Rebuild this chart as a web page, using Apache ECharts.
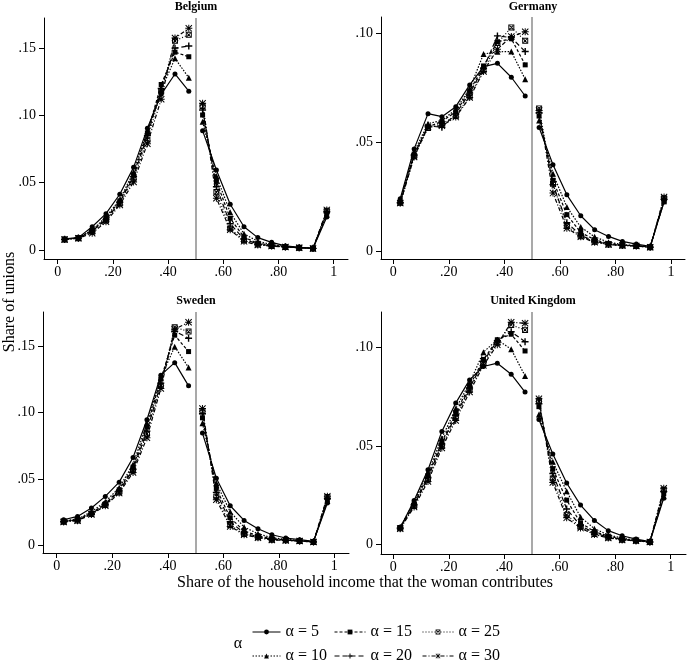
<!DOCTYPE html>
<html>
<head>
<meta charset="utf-8">
<script src="https://cdn.jsdelivr.net/npm/echarts@6/dist/echarts.min.js"></script>
<style>
html,body{margin:0;padding:0;background:#fff;}
#chart{width:688px;height:664px;}
</style>
</head>
<body>
<div id="chart"></div>
<script>
// ---- data ----
const xValues = [0.025,0.075,0.125,0.175,0.225,0.275,0.325,0.375,0.425,0.475,0.525,0.575,0.625,0.675,0.725,0.775,0.825,0.875,0.925,0.975];
const alphas = [5,10,15,20,25,30];
const countries = ['Belgium','Germany','Sweden','United Kingdom'];
const xTicks = [0,0.2,0.4,0.6,0.8,1];
const yTicksBelgium = [0,0.05,0.10,0.15];
const yTicksGermany = [0,0.05,0.10];
const yTicksSweden = [0,0.05,0.10,0.15];
const yTicksUK = [0,0.05,0.10];

// rows: alpha = 5, 10, 15, 20, 25, 30
const belgium = [
 [.0082,.0092,.0173,.0270,.0414,.0614,.0904,.1157,.1308,.1180,.0887,.0594,.0340,.0173,.0092,.0057,.0030,.0020,.0013,.0245],
 [.0080,.0090,.0150,.0245,.0375,.0580,.0885,.1190,.1424,.1280,.0953,.0550,.0280,.0120,.0065,.0040,.0027,.0019,.0013,.0262],
 [.0080,.0090,.0145,.0235,.0365,.0560,.0870,.1230,.1470,.1436,.1003,.0510,.0235,.0095,.0050,.0035,.0025,.0018,.0012,.0275],
 [.0079,.0089,.0140,.0225,.0355,.0545,.0850,.1200,.1500,.1516,.1040,.0470,.0195,.0080,.0045,.0032,.0023,.0017,.0012,.0285],
 [.0078,.0088,.0135,.0220,.0345,.0530,.0820,.1180,.1555,.1600,.1070,.0430,.0160,.0070,.0040,.0030,.0022,.0017,.0011,.0292],
 [.0077,.0087,.0125,.0210,.0335,.0505,.0790,.1120,.1575,.1647,.1090,.0385,.0150,.0064,.0037,.0029,.0022,.0016,.0011,.0298]
];
const germany = [
 [.0240,.0469,.0631,.0617,.0663,.0763,.0847,.0862,.0798,.0712,.0567,.0396,.0258,.0162,.0098,.0067,.0044,.0032,.0021,.0225],
 [.0230,.0455,.0585,.0600,.0650,.0745,.0905,.0915,.0916,.0789,.0600,.0355,.0202,.0110,.0065,.0040,.0030,.0025,.0019,.0228],
 [.0225,.0445,.0570,.0595,.0640,.0735,.0850,.0961,.0975,.0855,.0620,.0325,.0167,.0085,.0052,.0034,.0027,.0024,.0018,.0232],
 [.0222,.0440,.0575,.0568,.0630,.0725,.0840,.0988,.0980,.0916,.0635,.0305,.0130,.0072,.0045,.0031,.0026,.0024,.0018,.0238],
 [.0220,.0435,.0565,.0585,.0620,.0710,.0830,.0955,.1027,.0966,.0655,.0309,.0115,.0068,.0042,.0030,.0025,.0023,.0017,.0242],
 [.0220,.0432,.0570,.0575,.0615,.0705,.0825,.0927,.0985,.1007,.0645,.0266,.0105,.0065,.0040,.0030,.0025,.0023,.0017,.0248]
];
const sweden = [
 [.0195,.0220,.0283,.0370,.0477,.0662,.0945,.1280,.1374,.1200,.0845,.0507,.0300,.0190,.0127,.0082,.0058,.0045,.0032,.0320],
 [.0188,.0200,.0255,.0330,.0435,.0610,.0920,.1260,.1494,.1337,.0920,.0470,.0255,.0140,.0090,.0060,.0048,.0040,.0030,.0335],
 [.0185,.0195,.0245,.0315,.0420,.0590,.0890,.1250,.1580,.1457,.0960,.0430,.0210,.0110,.0075,.0052,.0044,.0037,.0029,.0345],
 [.0182,.0192,.0240,.0310,.0410,.0575,.0860,.1220,.1610,.1557,.0990,.0400,.0180,.0095,.0068,.0048,.0042,.0036,.0029,.0355],
 [.0180,.0190,.0238,.0305,.0400,.0565,.0840,.1200,.1640,.1607,.1010,.0370,.0155,.0088,.0063,.0045,.0041,.0035,.0028,.0365],
 [.0178,.0188,.0235,.0300,.0395,.0550,.0810,.1180,.1625,.1677,.1030,.0345,.0145,.0082,.0060,.0043,.0040,.0035,.0028,.0372]
];
const unitedKingdom = [
 [.0085,.0223,.0379,.0574,.0718,.0836,.0904,.0921,.0865,.0774,.0635,.0459,.0312,.0200,.0122,.0070,.0044,.0027,.0014,.0235],
 [.0088,.0215,.0365,.0540,.0690,.0820,.0977,.1040,.0992,.0856,.0660,.0420,.0270,.0139,.0080,.0048,.0032,.0022,.0013,.0245],
 [.0086,.0205,.0350,.0520,.0670,.0805,.0940,.1040,.1068,.0983,.0700,.0385,.0225,.0110,.0065,.0042,.0028,.0020,.0013,.0258],
 [.0084,.0200,.0340,.0510,.0655,.0795,.0930,.1035,.1081,.1030,.0715,.0360,.0180,.0095,.0058,.0038,.0025,.0019,.0012,.0268],
 [.0082,.0195,.0330,.0500,.0645,.0785,.0920,.1025,.1115,.1090,.0730,.0335,.0150,.0088,.0053,.0035,.0024,.0018,.0012,.0278],
 [.0080,.0190,.0320,.0490,.0630,.0775,.0910,.1015,.1129,.1124,.0740,.0315,.0135,.0083,.0050,.0033,.0023,.0018,.0012,.0285]
];
const countryData = [belgium, germany, sweden, unitedKingdom];
const yTicks = [yTicksBelgium, yTicksGermany, yTicksSweden, yTicksUK];

// ---- layout / styles ----
const FONT = '"Liberation Serif","Times New Roman",serif';
const grids = [
  {left:44, top:18, width:304, height:241},
  {left:381, top:17, width:304, height:242},
  {left:43, top:312, width:306, height:241},
  {left:381, top:312, width:305, height:242}
];
const xRanges = [[-0.0496,1.0518],[-0.0443,1.0504],[-0.0494,1.0529],[-0.0443,1.0552]];
const yRanges = [[-0.0067,0.1724],[-0.00367,0.10748],[-0.00547,0.1754],[-0.00487,0.1181]];

const PLUS = 'path://M4,0H6V4H10V6H6V10H4V6H0V4H4Z';
const STAR = 'path://M4.3,0H5.7V10H4.3Z M0,4.3H10V5.7H0Z M1,0L10,9L9,10L0,1Z M9,0L10,1L1,10L0,9Z';
const SQX = 'path://M0,0H10V10H0Z M1.6,1.6V8.4H8.4V1.6Z M1.6,2.6L2.6,1.6L8.4,7.4L7.4,8.4Z M7.4,1.6L8.4,2.6L2.6,8.4L1.6,7.4Z';
const seriesStyle = [
  {symbol:'circle', size:5, dash:'solid'},
  {symbol:'triangle', size:6, dash:[1.5,1.5]},
  {symbol:'rect', size:5, dash:[3,2]},
  {symbol:PLUS, size:7, dash:[5,3]},
  {symbol:SQX, size:6, dash:[1,2]},
  {symbol:STAR, size:7, dash:[4,2,1,2]}
];

function fmt(v){
  if (v === 0) return '0';
  if (v === 1) return '1';
  return v.toFixed(2).replace(/^0/, '');
}
function build(vals){
  const out = [];
  for (let i = 0; i < xValues.length; i++){
    out.push([xValues[i], vals[i]]);
    if (i === 9) out.push([0.5, '-']);
  }
  return out;
}

const xAxis = [], yAxis = [], series = [];
for (let c = 0; c < 4; c++){
  xAxis.push({
    type:'value', gridIndex:c, min:xRanges[c][0], max:xRanges[c][1],
    axisLine:{onZero:false, lineStyle:{color:'#000', width:1}},
    axisTick:{show:true, length:5, customValues:xTicks, lineStyle:{color:'#000'}},
    axisLabel:{customValues:xTicks, formatter:fmt, color:'#000', fontSize:14, fontFamily:FONT, margin:6},
    splitLine:{show:false}
  });
  yAxis.push({
    type:'value', gridIndex:c, min:yRanges[c][0], max:yRanges[c][1],
    axisLine:{show:true, onZero:false, lineStyle:{color:'#000', width:1}},
    axisTick:{show:true, length:5, customValues:yTicks[c], lineStyle:{color:'#000'}},
    axisLabel:{customValues:yTicks[c], formatter:fmt, color:'#000', fontSize:14, fontFamily:FONT, margin:8},
    splitLine:{show:false}
  });
  for (let k = 0; k < alphas.length; k++){
    const st = seriesStyle[k];
    const s = {
      type:'line', name:'\u03b1 = ' + alphas[k], xAxisIndex:c, yAxisIndex:c,
      data: build(countryData[c][k]),
      symbol: st.symbol, symbolSize: st.size, showSymbol:true, connectNulls:false,
      lineStyle:{color:'#000', width:1.2, type:st.dash},
      itemStyle:{color:'#000', borderWidth:0},
      emphasis:{disabled:true},
      z: 3
    };
    if (k === 0){
      s.markLine = {
        silent:true, symbol:'none', label:{show:false}, animation:false,
        lineStyle:{color:'#8c8c8c', width:1.5, type:'solid'},
        data:[{xAxis:0.5}], z:2
      };
    }
    series.push(s);
  }
}

const legendPos = [
  {left:252, top:624, w:28},
  {left:252, top:648, w:28},
  {left:334, top:624, w:31},
  {left:334, top:648, w:31},
  {left:422, top:624, w:31},
  {left:422, top:648, w:31}
];
const legend = alphas.map((a, k) => ({
  data:['\u03b1 = ' + a], left:legendPos[k].left, top:legendPos[k].top,
  itemWidth:legendPos[k].w, itemHeight:6, selectedMode:false, padding:0,
  lineStyle:{width:1}, itemStyle:{borderWidth:0},
  textStyle:{color:'#000', fontSize:16, fontFamily:FONT}
}));

const titleStyle = {fill:'#000', font:'bold 12px ' + FONT, textAlign:'center', textVerticalAlign:'middle'};
const graphic = [
  {type:'text', style:Object.assign({x:196, y:7, text:countries[0]}, titleStyle)},
  {type:'text', style:Object.assign({x:533, y:7, text:countries[1]}, titleStyle)},
  {type:'text', style:Object.assign({x:196, y:301, text:countries[2]}, titleStyle)},
  {type:'text', style:Object.assign({x:533, y:301, text:countries[3]}, titleStyle)},
  {type:'text', x:10, y:302, rotation:Math.PI/2,
   style:{x:0, y:0, text:'Share of unions', fill:'#000', font:'16px ' + FONT, textAlign:'center', textVerticalAlign:'middle'}},
  {type:'text', style:{x:365, y:583, text:'Share of the household income that the woman contributes', fill:'#000', font:'16px ' + FONT, textAlign:'center', textVerticalAlign:'middle'}},
  {type:'text', style:{x:238, y:644, text:'\u03b1', fill:'#000', font:'16px ' + FONT, textAlign:'center', textVerticalAlign:'middle'}}
];

const chart = echarts.init(document.getElementById('chart'), null, {renderer:'canvas'});
chart.setOption({
  animation:false,
  backgroundColor:'#fff',
  grid:grids,
  xAxis:xAxis,
  yAxis:yAxis,
  legend:legend,
  graphic:graphic,
  series:series
});
</script>
</body>
</html>
